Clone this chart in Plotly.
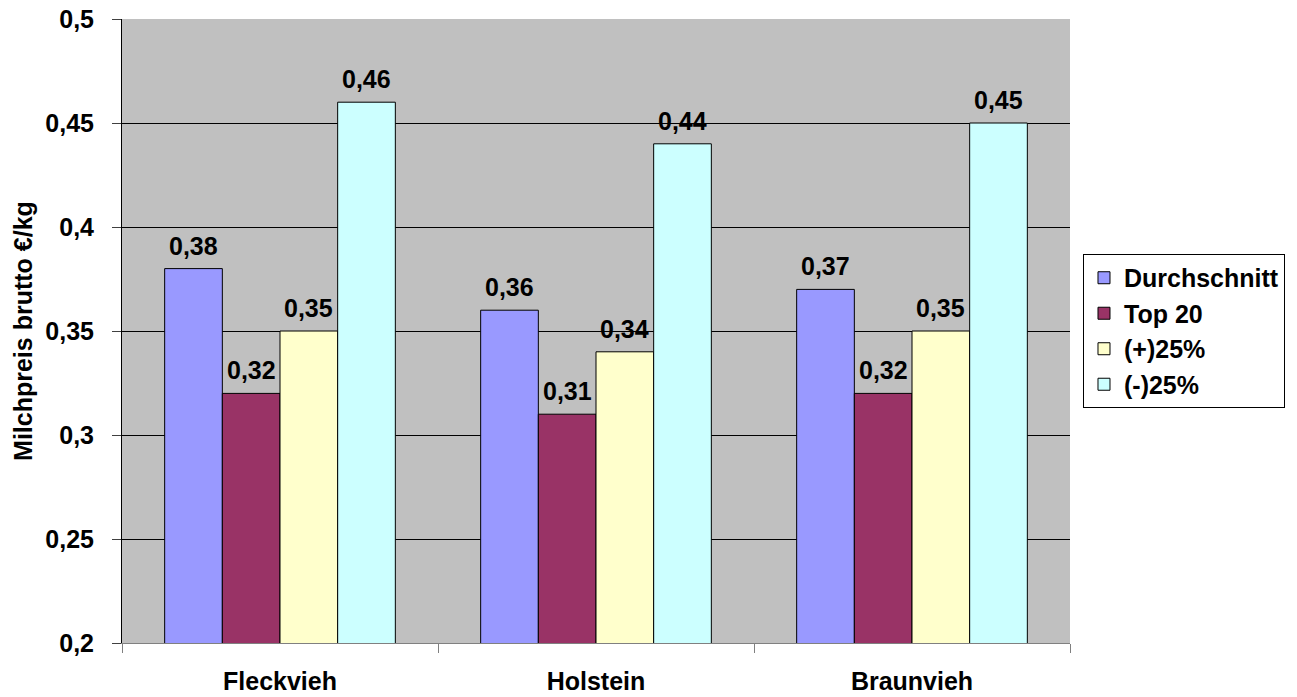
import plotly.graph_objects as go

categories = ["Fleckvieh", "Holstein", "Braunvieh"]
series_names = ["Durchschnitt", "Top 20", "(+)25%", "(-)25%"]
durchschnitt = [0.38, 0.36, 0.37]
top20 = [0.32, 0.31, 0.32]
plus25 = [0.35, 0.34, 0.35]
minus25 = [0.46, 0.44, 0.45]
y_ticks = [0.2, 0.25, 0.3, 0.35, 0.4, 0.45, 0.5]

colors = ["#9999FF", "#993366", "#FFFFCC", "#CCFFFF"]
values = [durchschnitt, top20, plus25, minus25]

FONT = "Liberation Sans, Arial, sans-serif"
FS = 25
BARGAP = 0.27

fig = go.Figure()
for name, vals, col in zip(series_names, values, colors):
    fig.add_trace(go.Bar(
        x=categories, y=vals, name=name,
        marker=dict(color=col, line=dict(color="black", width=1)),
    ))

# value labels above each bar, positioned from the same data values
n = len(series_names)
bw = (1 - BARGAP) / n
for s, vals in enumerate(values):
    off = (s - (n - 1) / 2) * bw
    for i, v in enumerate(vals):
        fig.add_annotation(
            x=i + off, y=v, xref="x", yref="y",
            text=f"{v:.2f}".replace(".", ","), showarrow=False,
            yanchor="bottom", yshift=7,
            font=dict(family=FONT, size=FS, color="black", weight="bold"),
        )

# rotated y-axis title
fig.add_annotation(
    x=-0.1045, y=0.5, xref="paper", yref="paper",
    text="Milchpreis brutto €/kg", textangle=-90, showarrow=False,
    xanchor="center", yanchor="middle",
    font=dict(family=FONT, size=FS, color="black", weight="bold"),
)

fig.update_layout(
    width=1297, height=697,
    margin=dict(l=122, r=227, t=19, b=54),
    paper_bgcolor="white", plot_bgcolor="#C0C0C0",
    separators=",.",
    barmode="group", bargap=BARGAP, bargroupgap=0,
    font=dict(family=FONT, color="black"),
    showlegend=True,
    legend=dict(
        x=1.0137, y=0.6234, xanchor="left", yanchor="top",
        bordercolor="black", borderwidth=1, bgcolor="white",
        font=dict(family=FONT, size=FS, color="black", weight="bold"),
        traceorder="normal",
    ),
)

fig.update_yaxes(
    range=[0.2, 0.5], tickvals=y_ticks, tickformat=".2~f",
    automargin=False,
    showgrid=True, gridcolor="#000000", gridwidth=1,
    showline=True, linecolor="black", linewidth=1,
    ticks="outside", ticklen=9, tickcolor="#404040",
    ticklabelstandoff=13,
    tickfont=dict(family=FONT, size=FS, color="black", weight="bold"),
    zeroline=False,
)
fig.update_xaxes(
    automargin=False,
    showgrid=False, showline=True, linecolor="#808080", linewidth=1,
    ticks="outside", tickson="boundaries", ticklen=9, tickcolor="#808080",
    ticklabelstandoff=16,
    tickfont=dict(family=FONT, size=FS, color="black", weight="bold"),
)

fig.write_html("out.html")
